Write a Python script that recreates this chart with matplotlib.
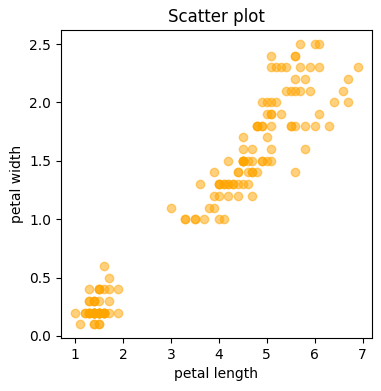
import numpy as np
from matplotlib import pyplot as plt

# iris petal measurements
petal_length = [
    1.4, 1.4, 1.3, 1.5, 1.4, 1.7, 1.4, 1.5, 1.4, 1.5,
    1.5, 1.6, 1.4, 1.1, 1.2, 1.5, 1.3, 1.4, 1.7, 1.5,
    1.7, 1.5, 1.0, 1.7, 1.9, 1.6, 1.6, 1.5, 1.4, 1.6,
    1.6, 1.5, 1.5, 1.4, 1.5, 1.2, 1.3, 1.4, 1.3, 1.5,
    1.3, 1.3, 1.3, 1.6, 1.9, 1.4, 1.6, 1.4, 1.5, 1.4,
    4.7, 4.5, 4.9, 4.0, 4.6, 4.5, 4.7, 3.3, 4.6, 3.9,
    3.5, 4.2, 4.0, 4.7, 3.6, 4.4, 4.5, 4.1, 4.5, 3.9,
    4.8, 4.0, 4.9, 4.7, 4.3, 4.4, 4.8, 5.0, 4.5, 3.5,
    3.8, 3.7, 3.9, 5.1, 4.5, 4.5, 4.7, 4.4, 4.1, 4.0,
    4.4, 4.6, 4.0, 3.3, 4.2, 4.2, 4.2, 4.3, 3.0, 4.1,
    6.0, 5.1, 5.9, 5.6, 5.8, 6.6, 4.5, 6.3, 5.8, 6.1,
    5.1, 5.3, 5.5, 5.0, 5.1, 5.3, 5.5, 6.7, 6.9, 5.0,
    5.7, 4.9, 6.7, 4.9, 5.7, 6.0, 4.8, 4.9, 5.6, 5.8,
    6.1, 6.4, 5.6, 5.1, 5.6, 6.1, 5.6, 5.5, 4.8, 5.4,
    5.6, 5.1, 5.1, 5.9, 5.7, 5.2, 5.0, 5.2, 5.4, 5.1,
]
petal_width = [
    0.2, 0.2, 0.2, 0.2, 0.2, 0.4, 0.3, 0.2, 0.2, 0.1,
    0.2, 0.2, 0.1, 0.1, 0.2, 0.4, 0.4, 0.3, 0.3, 0.3,
    0.2, 0.4, 0.2, 0.5, 0.2, 0.2, 0.4, 0.2, 0.2, 0.2,
    0.2, 0.4, 0.1, 0.2, 0.2, 0.2, 0.2, 0.1, 0.2, 0.2,
    0.3, 0.3, 0.2, 0.6, 0.4, 0.3, 0.2, 0.2, 0.2, 0.2,
    1.4, 1.5, 1.5, 1.3, 1.5, 1.3, 1.6, 1.0, 1.3, 1.4,
    1.0, 1.5, 1.0, 1.4, 1.3, 1.4, 1.5, 1.0, 1.5, 1.1,
    1.8, 1.3, 1.5, 1.2, 1.3, 1.4, 1.4, 1.7, 1.5, 1.0,
    1.1, 1.0, 1.2, 1.6, 1.5, 1.6, 1.5, 1.3, 1.3, 1.3,
    1.2, 1.4, 1.2, 1.0, 1.3, 1.2, 1.3, 1.3, 1.1, 1.3,
    2.5, 1.9, 2.1, 1.8, 2.2, 2.1, 1.7, 1.8, 1.8, 2.5,
    2.0, 1.9, 2.1, 2.0, 2.4, 2.3, 1.8, 2.2, 2.3, 1.5,
    2.3, 2.0, 2.0, 1.8, 2.1, 1.8, 1.8, 1.8, 2.1, 1.6,
    1.9, 2.0, 2.2, 1.5, 1.4, 2.3, 2.4, 1.8, 1.8, 2.1,
    2.4, 2.3, 1.9, 2.3, 2.5, 2.3, 1.9, 2.0, 2.3, 1.8,
]

fig = plt.figure(figsize=(3.81, 3.91), dpi=100)
ax = fig.add_axes([0.16, 0.135, 0.816, 0.788])

ax.scatter(petal_length, petal_width, color='orange', alpha=0.5)
ax.set_title('Scatter plot')
ax.set_xlabel('petal length')
ax.set_ylabel('petal width')

fig.savefig('out.png')
